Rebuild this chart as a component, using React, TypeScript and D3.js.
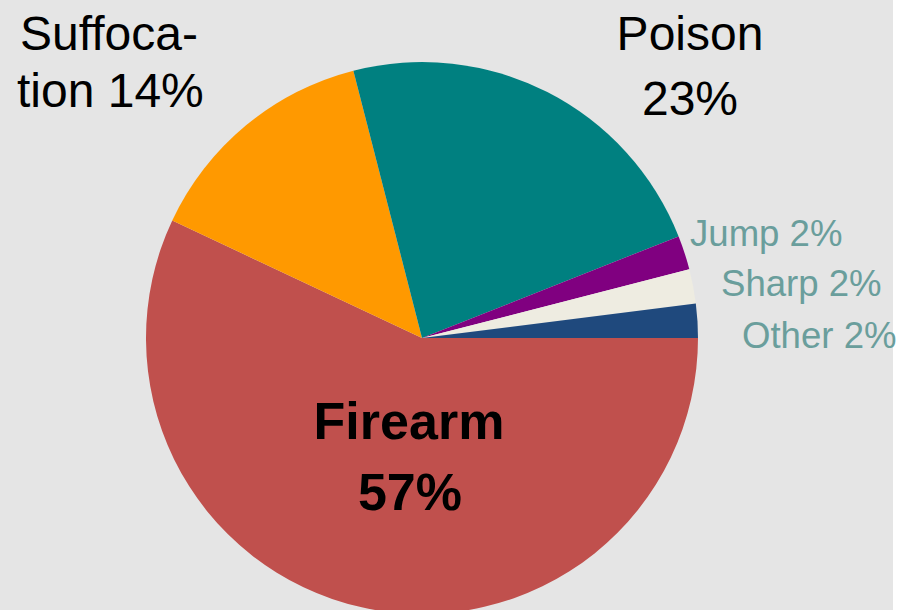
import React from "react";
import * as d3 from "d3";

const categories = ["Firearm", "Suffocation", "Poison", "Jump", "Sharp", "Other"];
const values = [57, 14, 23, 2, 2, 2];
const colors = ["#c0504d", "#ff9900", "#008080", "#800080", "#eeece1", "#1f497d"];

const W = 902;
const H = 610;
const CX = 422;
const CY = 338;
const R = 276;

export default function App() {
  const data = categories.map((c, i) => ({ c, v: values[i], col: colors[i] }));
  const pie = d3
    .pie<{ c: string; v: number; col: string }>()
    .value((d) => d.v)
    .sort(null)
    .startAngle(Math.PI / 2)
    .endAngle(Math.PI / 2 + 2 * Math.PI);
  const arcs = pie(data);
  const arc = d3.arc<d3.PieArcDatum<{ c: string; v: number; col: string }>>().innerRadius(0).outerRadius(R);
  const font = "Liberation Sans, Arial, sans-serif";
  const small = "#6a9e9c";
  return (
    <div style={{ position: "fixed", left: 0, top: 0, width: W, height: H, overflow: "hidden" }}>
      <svg width={W} height={H} style={{ display: "block" }}>
        <rect x={0} y={0} width={W} height={H} fill="#ffffff" />
        <rect x={0} y={0} width={893} height={H} fill="#e5e5e5" />
        <g transform={`translate(${CX},${CY})`}>
          {arcs.map((a) => (
            <path key={a.data.c} d={arc(a) || ""} fill={a.data.col} />
          ))}
        </g>
        <g fontFamily={font}>
          <text x={20} y={50} fontSize={48} fill="#000">Suffoca-</text>
          <text x={17} y={107} fontSize={48} fill="#000">{`tion ${values[1]}%`}</text>
          <text x={690} y={50} fontSize={48} fill="#000" textAnchor="middle">Poison</text>
          <text x={690} y={115} fontSize={48} fill="#000" textAnchor="middle">{`${values[2]}%`}</text>
          <text x={409} y={439} fontSize={52} fontWeight="bold" fill="#000" textAnchor="middle">{categories[0]}</text>
          <text x={410} y={510} fontSize={52} fontWeight="bold" fill="#000" textAnchor="middle">{`${values[0]}%`}</text>
          <text x={690} y={246} fontSize={36.6} fill={small}>{`${categories[3]} ${values[3]}%`}</text>
          <text x={721} y={296} fontSize={36.6} fill={small}>{`${categories[4]} ${values[4]}%`}</text>
          <text x={742} y={348} fontSize={36.6} fill={small}>{`${categories[5]} ${values[5]}%`}</text>
        </g>
      </svg>
    </div>
  );
}
